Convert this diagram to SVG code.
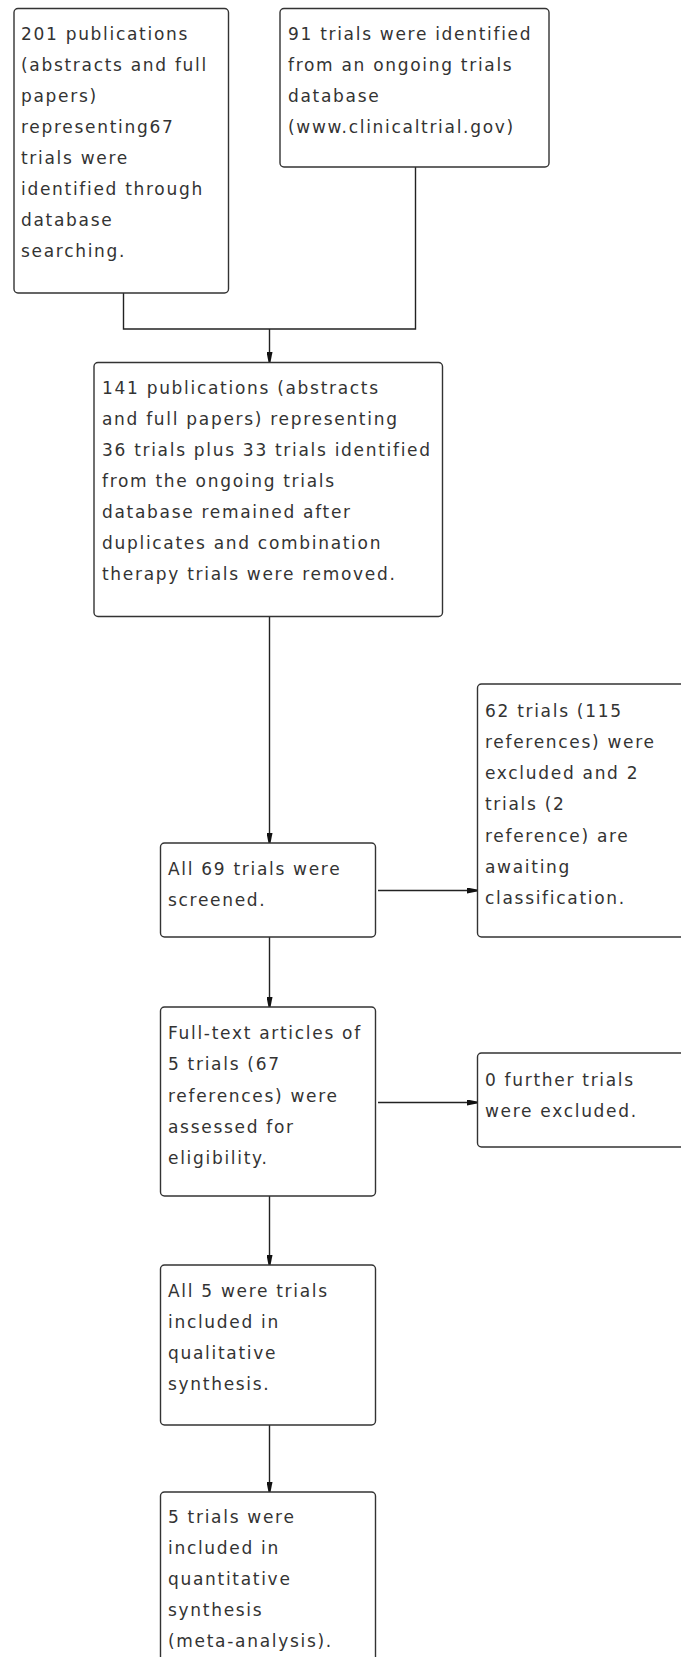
<svg xmlns="http://www.w3.org/2000/svg" width="681" height="1657" viewBox="0 0 681 1657">
<style>
.box{fill:#fff;stroke:#333;stroke-width:1.4}
.t{font-family:"DejaVu Sans",Verdana,sans-serif;font-size:17px;letter-spacing:1.7px;fill:#333}
.c{fill:none;stroke:#222;stroke-width:1.4}
</style>
<defs>
<marker id="ah" viewBox="0 0 10 6" refX="10" refY="3" markerWidth="10" markerHeight="6" orient="auto" markerUnits="userSpaceOnUse">
<path d="M0,0 L10,2 L10,4 L0,6 z" fill="#111"/>
</marker>
</defs>
<rect width="681" height="1657" fill="#fff"/>
<g id="connectors">
<path class="c" d="M123.5,293 V329 H415.5 V167"/>
<path class="c" d="M269.5,329 V362" marker-end="url(#ah)"/>
<path class="c" d="M269.5,616.5 V843" marker-end="url(#ah)"/>
<path class="c" d="M378,890.5 H477" marker-end="url(#ah)"/>
<path class="c" d="M269.5,937 V1007" marker-end="url(#ah)"/>
<path class="c" d="M378,1102.5 H477" marker-end="url(#ah)"/>
<path class="c" d="M269.5,1196 V1265" marker-end="url(#ah)"/>
<path class="c" d="M269.5,1425 V1492" marker-end="url(#ah)"/>
</g>
<g id="n1">
<rect class="box" x="14" y="8.5" width="214.5" height="284.5" rx="4"/>
<text class="t" x="21" y="40"><tspan x="21">201 publications</tspan><tspan x="21" dy="31">(abstracts and full</tspan><tspan x="21" dy="31">papers)</tspan><tspan x="21" dy="31">representing67</tspan><tspan x="21" dy="31">trials were</tspan><tspan x="21" dy="31">identified through</tspan><tspan x="21" dy="31">database</tspan><tspan x="21" dy="31">searching.</tspan></text>
</g>
<g id="n2">
<rect class="box" x="280" y="8.5" width="269" height="158.5" rx="4"/>
<text class="t" x="288" y="40"><tspan x="288">91 trials were identified</tspan><tspan x="288" dy="31">from an ongoing trials</tspan><tspan x="288" dy="31">database</tspan><tspan x="288" dy="31">(www.clinicaltrial.gov)</tspan></text>
</g>
<g id="n3">
<rect class="box" x="94" y="362.5" width="348.5" height="254" rx="4"/>
<text class="t" x="102" y="394"><tspan x="102">141 publications (abstracts</tspan><tspan x="102" dy="31">and full papers) representing</tspan><tspan x="102" dy="31">36 trials plus 33 trials identified</tspan><tspan x="102" dy="31">from the ongoing trials</tspan><tspan x="102" dy="31">database remained after</tspan><tspan x="102" dy="31">duplicates and combination</tspan><tspan x="102" dy="31">therapy trials were removed.</tspan></text>
</g>
<g id="n4">
<rect class="box" x="160.5" y="843" width="215" height="94" rx="4"/>
<text class="t" x="168" y="875"><tspan x="168">All 69 trials were</tspan><tspan x="168" dy="31">screened.</tspan></text>
</g>
<g id="n5">
<rect class="box" x="477.5" y="684" width="215" height="253" rx="4"/>
<text class="t" x="485" y="716.5"><tspan x="485">62 trials (115</tspan><tspan x="485" dy="31.3">references) were</tspan><tspan x="485" dy="31.3">excluded and 2</tspan><tspan x="485" dy="31.3">trials (2</tspan><tspan x="485" dy="31.3">reference) are</tspan><tspan x="485" dy="31.3">awaiting</tspan><tspan x="485" dy="31.3">classification.</tspan></text>
</g>
<g id="n6">
<rect class="box" x="160.5" y="1007" width="215" height="189" rx="4"/>
<text class="t" x="168" y="1039"><tspan x="168">Full-text articles of</tspan><tspan x="168" dy="31.3">5 trials (67</tspan><tspan x="168" dy="31.3">references) were</tspan><tspan x="168" dy="31.3">assessed for</tspan><tspan x="168" dy="31.3">eligibility.</tspan></text>
</g>
<g id="n7">
<rect class="box" x="477.5" y="1053" width="215" height="94" rx="4"/>
<text class="t" x="485" y="1085.5"><tspan x="485">0 further trials</tspan><tspan x="485" dy="31">were excluded.</tspan></text>
</g>
<g id="n8">
<rect class="box" x="160.5" y="1265" width="215" height="160" rx="4"/>
<text class="t" x="168" y="1296.5"><tspan x="168">All 5 were trials</tspan><tspan x="168" dy="31">included in</tspan><tspan x="168" dy="31">qualitative</tspan><tspan x="168" dy="31">synthesis.</tspan></text>
</g>
<g id="n9">
<rect class="box" x="160.5" y="1492" width="215" height="200" rx="4"/>
<text class="t" x="168" y="1523"><tspan x="168">5 trials were</tspan><tspan x="168" dy="31">included in</tspan><tspan x="168" dy="31">quantitative</tspan><tspan x="168" dy="31">synthesis</tspan><tspan x="168" dy="31">(meta-analysis).</tspan></text>
</g>
</svg>
